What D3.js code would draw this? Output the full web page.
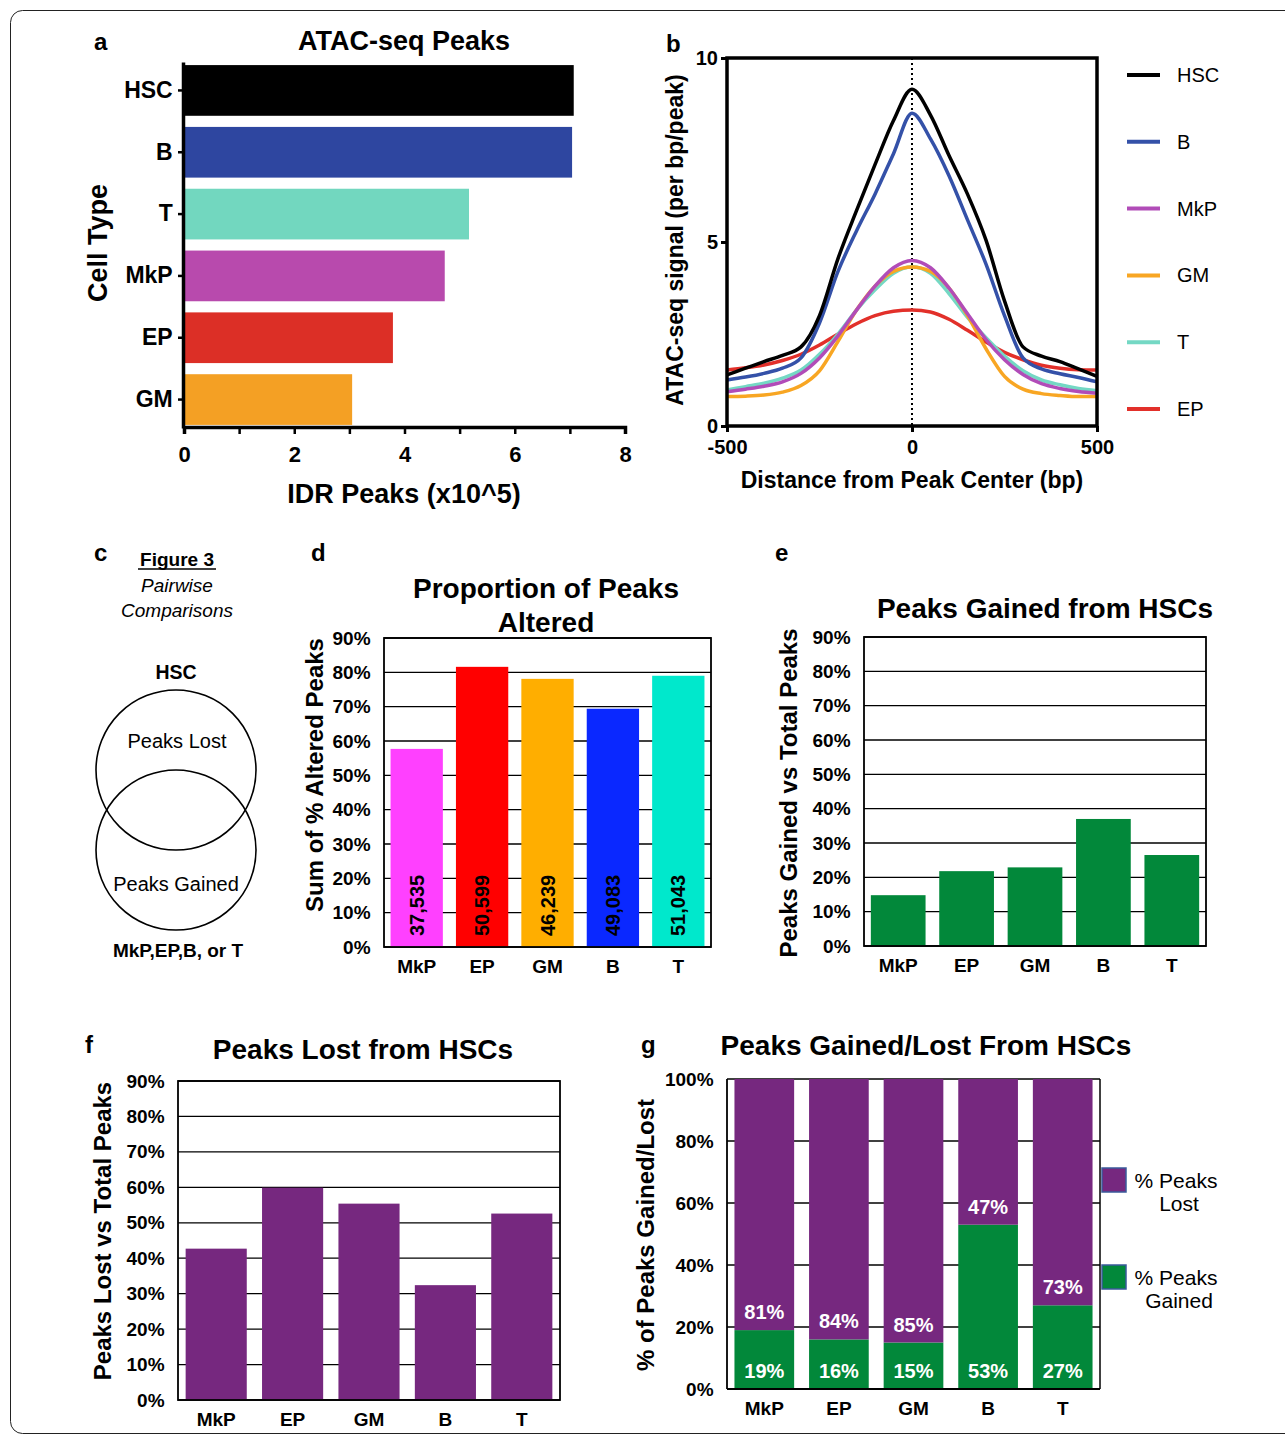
<!DOCTYPE html>
<html>
<head>
  <meta charset="UTF-8">
  <style>
    body { margin: 0; background: #fff; }
    svg { display: block; font-family: "Liberation Sans", Arial, sans-serif; }
  </style>
</head>
<body>
<svg></svg>
<script src="https://d3js.org/d3.v7.min.js"></script>
<script>

let width = 1285, height = 1434;

// ---- data ----
// panel a
const cellTypes = ["HSC", "B", "T", "MkP", "EP", "GM"];
const idrPeaks = [7.07, 7.04, 5.17, 4.73, 3.79, 3.05];

// panel b (signal profile around peak center)
const profileX = [-500, -450, -400, -350, -300, -250, -200, -150, -100, -50, 0, 50, 100, 150, 200, 250, 300, 350, 400, 450, 500];
const hscSignal = [1.39, 1.57, 1.75, 1.92, 2.15, 3.0, 4.55, 5.85, 7.1, 8.3, 9.15, 8.45, 7.35, 6.3, 5.05, 3.4, 2.15, 1.9, 1.75, 1.55, 1.35];
const bSignal   = [1.25, 1.33, 1.43, 1.57, 1.85, 2.8, 4.2, 5.3, 6.3, 7.4, 8.5, 7.8, 6.8, 5.6, 4.4, 3.0, 1.85, 1.55, 1.42, 1.32, 1.2];
const mkpSignal = [0.93, 1.0, 1.08, 1.2, 1.43, 1.85, 2.45, 3.15, 3.8, 4.3, 4.5, 4.3, 3.75, 3.05, 2.35, 1.8, 1.4, 1.15, 1.02, 0.94, 0.89];
const gmSignal  = [0.8, 0.81, 0.84, 0.92, 1.1, 1.5, 2.3, 3.15, 3.8, 4.2, 4.32, 4.2, 3.75, 3.0, 2.1, 1.35, 1.0, 0.88, 0.83, 0.8, 0.8];
const tSignal   = [0.98, 1.07, 1.16, 1.3, 1.52, 1.95, 2.5, 3.15, 3.7, 4.15, 4.33, 4.15, 3.6, 2.95, 2.4, 1.9, 1.5, 1.25, 1.12, 1.02, 0.96];
const epSignal  = [1.52, 1.58, 1.66, 1.78, 1.95, 2.2, 2.5, 2.78, 3.0, 3.12, 3.15, 3.1, 2.9, 2.6, 2.28, 2.0, 1.8, 1.65, 1.57, 1.53, 1.52];
const profileNames = ["HSC", "B", "MkP", "GM", "T", "EP"];

// panels d-g
const compTypes = ["MkP", "EP", "GM", "B", "T"];
const alteredPct = [57.7, 81.6, 78.1, 69.4, 79.0];
const alteredCounts = ["37,535", "50,599", "46,239", "49,083", "51,043"];
const gainedPct = [14.8, 21.8, 22.9, 37.0, 26.5];
const lostPct = [42.7, 59.9, 55.4, 32.4, 52.6];
const shareGained = [19, 16, 15, 53, 27];
const shareLost = [81, 84, 85, 47, 73];

// ---- colours ----
const colorsA = { HSC: "#000000", B: "#2e46a0", T: "#72d7bf", MkP: "#b84aad", EP: "#dc2f26", GM: "#f4a024" };
const colorsB = { HSC: "#000000", B: "#3451a8", MkP: "#b14cb8", GM: "#f8a623", T: "#74d8c4", EP: "#e2302a" };
const colorsD = ["#ff40ff", "#ff0000", "#ffae00", "#0a28ff", "#00e8cc"];
const green = "#02883a", purple = "#76287f";

let svg = d3.select("svg")
    .attr("width", width)
    .attr("height", height);

// outer frame
svg.append("rect")
    .attr("x", 10.5).attr("y", 10.5)
    .attr("width", 1300).attr("height", 1423)
    .attr("rx", 12)
    .attr("fill", "none")
    .attr("stroke", "#222")
    .attr("stroke-width", 1);

function letter(t, x, y, size) {
    svg.append("text").attr("x", x).attr("y", y)
        .attr("font-size", size || 22).attr("font-weight", "bold").text(t);
}

// =============== panel a ===============
(function () {
    let x = d3.scaleLinear().domain([0, 8]).range([184, 625]);
    let y = d3.scaleBand().domain(cellTypes).range([62, 428]).paddingInner(0.18).paddingOuter(0.05);
    let g = svg.append("g");

    letter("a", 94, 50, 24);
    g.append("text").attr("x", 404).attr("y", 50).attr("text-anchor", "middle")
        .attr("font-size", 27).attr("font-weight", "bold").text("ATAC-seq Peaks");

    g.selectAll("rect.bar").data(cellTypes).enter().append("rect")
        .attr("x", x(0))
        .attr("y", d => y(d))
        .attr("width", (d, i) => x(idrPeaks[i]) - x(0))
        .attr("height", y.bandwidth())
        .attr("fill", d => colorsA[d]);

    let xAxis = g.append("g").attr("transform", "translate(0,427)")
        .call(d3.axisBottom(x).ticks(8).tickSize(7).tickFormat(d => d % 2 === 0 ? d : ""));
    xAxis.select(".domain").attr("stroke-width", 3.5);
    xAxis.selectAll(".tick line").attr("stroke-width", 2.5);
    xAxis.selectAll("text").attr("font-size", 22).attr("font-weight", "bold")
        .attr("font-family", "Liberation Sans, Arial").attr("dy", "1.15em");

    let yAxis = g.append("g").attr("transform", "translate(183,0)")
        .call(d3.axisLeft(y).tickSize(5).tickSizeOuter(0));
    yAxis.select(".domain").attr("stroke-width", 3.5);
    yAxis.selectAll(".tick line").attr("stroke-width", 2.5);
    yAxis.selectAll("text").attr("font-size", 23).attr("font-weight", "bold")
        .attr("font-family", "Liberation Sans, Arial").attr("dx", "-0.1em");

    g.append("text").attr("x", 404).attr("y", 503).attr("text-anchor", "middle")
        .attr("font-size", 27).attr("font-weight", "bold").text("IDR Peaks (x10^5)");
    g.append("text").attr("transform", "translate(107,243) rotate(-90)")
        .attr("text-anchor", "middle")
        .attr("font-size", 27).attr("font-weight", "bold").text("Cell Type");
})();

// =============== panel b ===============
(function () {
    let x = d3.scaleLinear().domain([-500, 500]).range([727, 1097]);
    let y = d3.scaleLinear().domain([0, 10]).range([426, 58]);
    let g = svg.append("g");
    letter("b", 666, 52, 24);

    let series = {
        HSC: hscSignal, B: bSignal, MkP: mkpSignal, GM: gmSignal, T: tSignal, EP: epSignal
    };
    let line = d3.line()
        .x(d => x(d[0]))
        .y(d => y(d[1]))
        .curve(d3.curveMonotoneX);

    // dotted centre line
    g.append("line")
        .attr("x1", x(0)).attr("x2", x(0))
        .attr("y1", y(10)).attr("y2", y(0))
        .attr("stroke", "#000").attr("stroke-width", 2)
        .attr("stroke-dasharray", "2,3");

    let drawOrder = ["EP", "T", "GM", "MkP", "B", "HSC"];
    g.selectAll("path.curve").data(drawOrder).enter().append("path")
        .attr("d", k => line(profileX.map((v, i) => [v, series[k][i]])))
        .attr("fill", "none")
        .attr("stroke", k => colorsB[k])
        .attr("stroke-width", 3.5);

    // frame
    g.append("rect")
        .attr("x", x(-500)).attr("y", y(10))
        .attr("width", x(500) - x(-500)).attr("height", y(0) - y(10))
        .attr("fill", "none").attr("stroke", "#000").attr("stroke-width", 3.5);

    let xAxis = g.append("g").attr("transform", "translate(0,426)")
        .call(d3.axisBottom(x).tickValues([-500, 0, 500]).tickSize(6).tickSizeOuter(0)
            .tickFormat(d => String(d)));
    xAxis.select(".domain").remove();
    xAxis.selectAll(".tick line").attr("stroke-width", 3);
    xAxis.selectAll("text").attr("font-size", 20).attr("font-weight", "bold")
        .attr("font-family", "Liberation Sans, Arial").attr("dy", "0.95em");

    let yAxis = g.append("g").attr("transform", "translate(727,0)")
        .call(d3.axisLeft(y).tickValues([0, 5, 10]).tickSize(6).tickSizeOuter(0));
    yAxis.select(".domain").remove();
    yAxis.selectAll(".tick line").attr("stroke-width", 3);
    yAxis.selectAll("text").attr("font-size", 20).attr("font-weight", "bold")
        .attr("font-family", "Liberation Sans, Arial");

    g.append("text").attr("x", 912).attr("y", 488).attr("text-anchor", "middle")
        .attr("font-size", 23).attr("font-weight", "bold").text("Distance from Peak Center (bp)");
    g.append("text").attr("transform", "translate(683,240) rotate(-90)")
        .attr("text-anchor", "middle")
        .attr("font-size", 23).attr("font-weight", "bold").text("ATAC-seq signal (per bp/peak)");

    // legend
    let ly = d3.scalePoint().domain(profileNames).range([75, 409]);
    let leg = g.selectAll("g.leg").data(profileNames).enter().append("g")
        .attr("transform", d => "translate(1127," + ly(d) + ")");
    leg.append("line").attr("x1", 0).attr("x2", 33)
        .attr("stroke", d => colorsB[d]).attr("stroke-width", 4);
    leg.append("text").attr("x", 50).attr("dy", "0.35em")
        .attr("font-size", 20).text(d => d);
})();

// =============== panel c ===============
(function () {
    let g = svg.append("g");
    letter("c", 94, 561, 24);
    g.append("text").attr("x", 177).attr("y", 566).attr("text-anchor", "middle")
        .attr("font-size", 19).attr("font-weight", "bold").text("Figure 3");
    g.append("line").attr("x1", 138).attr("x2", 216).attr("y1", 569).attr("y2", 569)
        .attr("stroke", "#000").attr("stroke-width", 1.3);
    g.append("text").attr("x", 177).attr("y", 592).attr("text-anchor", "middle")
        .attr("font-size", 19).attr("font-style", "italic").text("Pairwise");
    g.append("text").attr("x", 177).attr("y", 617).attr("text-anchor", "middle")
        .attr("font-size", 19).attr("font-style", "italic").text("Comparisons");
    g.append("text").attr("x", 176).attr("y", 679).attr("text-anchor", "middle")
        .attr("font-size", 19.5).attr("font-weight", "bold").text("HSC");
    g.append("circle").attr("cx", 176).attr("cy", 770).attr("r", 80)
        .attr("fill", "none").attr("stroke", "#000").attr("stroke-width", 1.6);
    g.append("circle").attr("cx", 176).attr("cy", 850).attr("r", 80)
        .attr("fill", "none").attr("stroke", "#000").attr("stroke-width", 1.6);
    g.append("text").attr("x", 177).attr("y", 748).attr("text-anchor", "middle")
        .attr("font-size", 20).text("Peaks Lost");
    g.append("text").attr("x", 176).attr("y", 891).attr("text-anchor", "middle")
        .attr("font-size", 20).text("Peaks Gained");
    g.append("text").attr("x", 178).attr("y", 957).attr("text-anchor", "middle")
        .attr("font-size", 19).attr("font-weight", "bold").text("MkP,EP,B, or T");
})();

// =============== shared bar chart frame (d, e, f, g) ===============
function barFrame(o) {
    let x = d3.scaleBand().domain(compTypes).range([o.left, o.right]).paddingInner(0.2).paddingOuter(0.1);
    let y = d3.scaleLinear().domain([0, o.max]).range([o.bottom, o.top]);
    let g = svg.append("g");

    // grid lines
    g.selectAll("line.grid").data(d3.range(0, o.max + 0.1, o.step)).enter().append("line")
        .attr("x1", o.left).attr("x2", o.right)
        .attr("y1", d => y(d)).attr("y2", d => y(d))
        .attr("stroke", "#000").attr("stroke-width", 1.3);

    let yAxis = g.append("g").attr("transform", "translate(" + o.left + ",0)")
        .call(d3.axisLeft(y).tickValues(d3.range(0, o.max + 0.1, o.step)).tickSize(0)
            .tickFormat(d => d + "%"));
    yAxis.select(".domain").remove();
    yAxis.selectAll("text").attr("font-size", 19).attr("font-weight", "bold")
        .attr("font-family", "Liberation Sans, Arial").attr("dx", "-0.55em");

    let xAxis = g.append("g").attr("transform", "translate(0," + o.bottom + ")")
        .call(d3.axisBottom(x).tickSize(0));
    xAxis.select(".domain").remove();
    xAxis.selectAll("text").attr("font-size", 19).attr("font-weight", "bold")
        .attr("font-family", "Liberation Sans, Arial").attr("dy", "1.2em");

    if (o.title) {
        g.append("text").attr("x", o.titleX).attr("y", o.titleY).attr("text-anchor", "middle")
            .attr("font-size", 28).attr("font-weight", "bold").text(o.title);
    }
    g.append("text").attr("transform", "translate(" + o.labelX + "," + o.labelY + ") rotate(-90)")
        .attr("text-anchor", "middle")
        .attr("font-size", 24).attr("font-weight", "bold").text(o.ylabel);
    return { x, y, g };
}

function frameBox(o, g) {
    g.append("rect")
        .attr("x", o.left).attr("y", o.top)
        .attr("width", o.right - o.left).attr("height", o.bottom - o.top)
        .attr("fill", "none").attr("stroke", "#000").attr("stroke-width", 1.8);
}

// =============== panel d ===============
(function () {
    letter("d", 311, 561, 24);
    let o = { left: 384, right: 711, top: 638, bottom: 947, max: 90, step: 10,
        title: "", titleX: 546, titleY: 598, ylabel: "Sum of % Altered Peaks", labelX: 323, labelY: 775 };
    let { x, y, g } = barFrame(o);
    g.append("text").attr("x", 546).attr("y", 598).attr("text-anchor", "middle")
        .attr("font-size", 28).attr("font-weight", "bold").text("Proportion of Peaks");
    g.append("text").attr("x", 546).attr("y", 632).attr("text-anchor", "middle")
        .attr("font-size", 28).attr("font-weight", "bold").text("Altered");

    g.selectAll("rect.bar").data(compTypes).enter().append("rect")
        .attr("x", d => x(d))
        .attr("y", (d, i) => y(alteredPct[i]))
        .attr("width", x.bandwidth())
        .attr("height", (d, i) => y(0) - y(alteredPct[i]))
        .attr("fill", (d, i) => colorsD[i]);

    g.selectAll("text.count").data(compTypes).enter().append("text")
        .attr("transform", d => "translate(" + (x(d) + x.bandwidth() / 2) + "," + (y(0) - 11) + ") rotate(-90)")
        .attr("dy", "0.35em")
        .attr("font-size", 20).attr("font-weight", "bold")
        .text((d, i) => alteredCounts[i]);
    frameBox(o, g);
})();

// =============== panel e ===============
(function () {
    letter("e", 775, 561, 24);
    let o = { left: 864, right: 1206, top: 637, bottom: 946, max: 90, step: 10,
        title: "Peaks Gained from HSCs", titleX: 1045, titleY: 618,
        ylabel: "Peaks Gained vs Total Peaks", labelX: 797, labelY: 793 };
    let { x, y, g } = barFrame(o);
    g.selectAll("rect.bar").data(compTypes).enter().append("rect")
        .attr("x", d => x(d))
        .attr("y", (d, i) => y(gainedPct[i]))
        .attr("width", x.bandwidth())
        .attr("height", (d, i) => y(0) - y(gainedPct[i]))
        .attr("fill", green);
    frameBox(o, g);
})();

// =============== panel f ===============
(function () {
    letter("f", 85, 1053, 24);
    let o = { left: 178, right: 560, top: 1081, bottom: 1400, max: 90, step: 10,
        title: "Peaks Lost from HSCs", titleX: 363, titleY: 1059,
        ylabel: "Peaks Lost vs Total Peaks", labelX: 111, labelY: 1231 };
    let { x, y, g } = barFrame(o);
    g.selectAll("rect.bar").data(compTypes).enter().append("rect")
        .attr("x", d => x(d))
        .attr("y", (d, i) => y(lostPct[i]))
        .attr("width", x.bandwidth())
        .attr("height", (d, i) => y(0) - y(lostPct[i]))
        .attr("fill", purple);
    frameBox(o, g);
})();

// =============== panel g ===============
(function () {
    letter("g", 641, 1053, 24);
    let o = { left: 727, right: 1100, top: 1079, bottom: 1389, max: 100, step: 20,
        title: "Peaks Gained/Lost From HSCs", titleX: 926, titleY: 1055,
        ylabel: "% of Peaks Gained/Lost", labelX: 654, labelY: 1235 };
    let { x, y, g } = barFrame(o);

    let stacked = compTypes.map((d, i) => ({ key: d, gained: shareGained[i], lost: shareLost[i] }));
    g.selectAll("rect.gain").data(stacked).enter().append("rect")
        .attr("x", d => x(d.key))
        .attr("y", d => y(d.gained))
        .attr("width", x.bandwidth())
        .attr("height", d => y(0) - y(d.gained))
        .attr("fill", green);
    g.selectAll("rect.lost").data(stacked).enter().append("rect")
        .attr("x", d => x(d.key))
        .attr("y", d => y(d.gained + d.lost))
        .attr("width", x.bandwidth())
        .attr("height", d => y(d.gained) - y(d.gained + d.lost))
        .attr("fill", purple);

    g.selectAll("text.gl").data(stacked).enter().append("text")
        .attr("x", d => x(d.key) + x.bandwidth() / 2)
        .attr("y", y(0) - 11)
        .attr("text-anchor", "middle")
        .attr("fill", "#fff").attr("font-size", 20).attr("font-weight", "bold")
        .text(d => d.gained + "%");
    g.selectAll("text.ll").data(stacked).enter().append("text")
        .attr("x", d => x(d.key) + x.bandwidth() / 2)
        .attr("y", d => y(d.gained) - 11)
        .attr("text-anchor", "middle")
        .attr("fill", "#fff").attr("font-size", 20).attr("font-weight", "bold")
        .text(d => d.lost + "%");

    // left and bottom axis lines, right edge
    g.append("line").attr("x1", o.left).attr("x2", o.left).attr("y1", o.top).attr("y2", o.bottom)
        .attr("stroke", "#000").attr("stroke-width", 1.8);
    g.append("line").attr("x1", o.left).attr("x2", o.right).attr("y1", o.bottom).attr("y2", o.bottom)
        .attr("stroke", "#000").attr("stroke-width", 1.8);
    g.append("line").attr("x1", o.right).attr("x2", o.right).attr("y1", o.top).attr("y2", o.bottom)
        .attr("stroke", "#000").attr("stroke-width", 1.5);

    // legend
    let legend = [
        { color: purple, lines: ["% Peaks", "Lost"], y: 1168 },
        { color: green, lines: ["% Peaks", "Gained"], y: 1265 }
    ];
    let lg = g.selectAll("g.lg").data(legend).enter().append("g");
    lg.append("rect")
        .attr("x", 1102).attr("y", d => d.y)
        .attr("width", 24).attr("height", 24)
        .attr("fill", d => d.color)
        .attr("stroke", "#3a5a9a").attr("stroke-width", 1.5);
    lg.append("text").attr("x", 1176).attr("y", d => d.y + 20)
        .attr("text-anchor", "middle").attr("font-size", 21)
        .text(d => d.lines[0]);
    lg.append("text").attr("x", 1179).attr("y", d => d.y + 43)
        .attr("text-anchor", "middle").attr("font-size", 21)
        .text(d => d.lines[1]);
})();

</script>
</body>
</html>
